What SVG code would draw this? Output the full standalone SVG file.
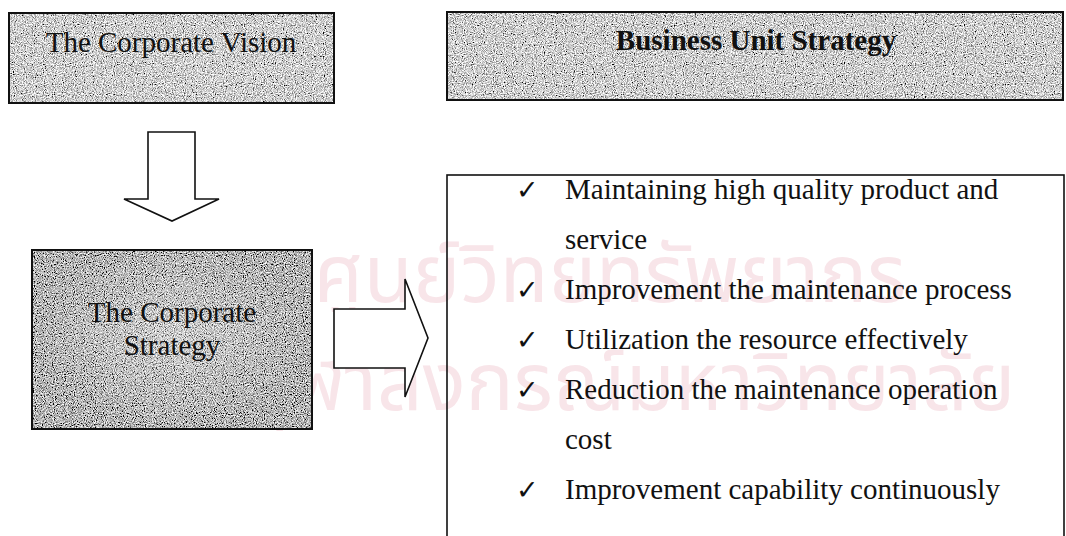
<svg xmlns="http://www.w3.org/2000/svg" width="1066" height="536" viewBox="0 0 1066 536">
  <defs>
    <!-- grainy grey fill for the title boxes -->
    <filter id="grainLight" x="0" y="0" width="100%" height="100%">
      <feTurbulence type="fractalNoise" baseFrequency="0.9" numOctaves="2" seed="4" result="n"/>
      <feColorMatrix in="n" type="matrix" values="2.2 0 0 0 -0.48  2.2 0 0 0 -0.48  2.2 0 0 0 -0.48  0 0 0 0 1" result="g"/>
      <feComposite in="g" in2="SourceGraphic" operator="in"/>
    </filter>
    <filter id="grainDark" x="0" y="0" width="100%" height="100%">
      <feTurbulence type="fractalNoise" baseFrequency="0.9" numOctaves="2" seed="9" result="n"/>
      <feColorMatrix in="n" type="matrix" values="2.2 0 0 0 -0.64  2.2 0 0 0 -0.64  2.2 0 0 0 -0.64  0 0 0 0 1" result="g"/>
      <feComposite in="g" in2="SourceGraphic" operator="in"/>
    </filter>
    <!-- soft lighter centre over the darker box -->
    <radialGradient id="glow" cx="50%" cy="48%" r="50%">
      <stop offset="0" stop-color="#fff" stop-opacity="0.35"/>
      <stop offset="1" stop-color="#fff" stop-opacity="0"/>
    </radialGradient>
  </defs>
  <style>
    .frame { fill: none; stroke: #111; stroke-width: 2; }
    .arrow { fill: #fff; stroke: #111; stroke-width: 1.6; stroke-linejoin: miter; }
    .title { font-family: "Liberation Serif", "Times New Roman", serif; font-size: 29px; fill: #111; text-anchor: middle; }
    .bold { font-weight: bold; }
    .item { font-family: "Liberation Serif", "Times New Roman", serif; font-size: 29px; fill: #111; }
    .tick { font-family: "DejaVu Sans", sans-serif; font-size: 27px; fill: #111; }
    .wm { font-family: "Noto Sans Thai", "Noto Sans", "DejaVu Sans", sans-serif; font-size: 80px; fill: #f8e5e9; }
  </style>

  <rect width="1066" height="536" fill="#fff"/>

  <!-- faint background watermark -->
  <g id="watermark">
    <text class="wm" x="610" y="302" text-anchor="middle">ศูนย์วิทยทรัพยากร</text>
    <text class="wm" x="632" y="410" text-anchor="middle">จุฬาลงกรณ์มหาวิทยาลัย</text>
  </g>

  <g id="corporate-vision">
    <rect x="9" y="13" width="325" height="90" fill="#999" filter="url(#grainLight)"/>
    <rect class="frame" x="9" y="13" width="325" height="90"/>
    <text class="title" x="171" y="52">The Corporate Vision</text>
  </g>

  <g id="business-unit-strategy">
    <rect x="447" y="12" width="616" height="88" fill="#999" filter="url(#grainLight)"/>
    <rect class="frame" x="447" y="12" width="616" height="88"/>
    <text class="title bold" x="756" y="50">Business Unit Strategy</text>
  </g>

  <g id="corporate-strategy">
    <rect x="32" y="250" width="280" height="179" fill="#777" filter="url(#grainDark)"/>
    <rect x="32" y="250" width="280" height="179" fill="url(#glow)"/>
    <rect class="frame" x="32" y="250" width="280" height="179"/>
    <text class="title" x="172" y="322">The Corporate</text>
    <text class="title" x="172" y="355">Strategy</text>
  </g>

  <g id="strategy-items">
    <rect x="447" y="175" width="617" height="380" fill="none" stroke="#111" stroke-width="1.6"/>
    <text class="tick" x="516" y="199">✓</text>
    <text class="item" x="565" y="199">Maintaining high quality product and</text>
    <text class="item" x="565" y="249">service</text>
    <text class="tick" x="516" y="299">✓</text>
    <text class="item" x="565" y="299">Improvement the maintenance process</text>
    <text class="tick" x="516" y="349">✓</text>
    <text class="item" x="565" y="349">Utilization the resource effectively</text>
    <text class="tick" x="516" y="399">✓</text>
    <text class="item" x="565" y="399">Reduction the maintenance operation</text>
    <text class="item" x="565" y="449">cost</text>
    <text class="tick" x="516" y="499">✓</text>
    <text class="item" x="565" y="499">Improvement capability continuously</text>
  </g>

  <g id="connectors">
    <!-- block arrow: vision down to corporate strategy -->
    <path class="arrow" d="M148,132 H195 V199 H219 L172,221 L124,199 H148 Z"/>
    <!-- block arrow: corporate strategy across to business unit items -->
    <path class="arrow" d="M334,309 H405 V279 L428,338 L405,397 V368 H334 Z"/>
  </g>
</svg>
